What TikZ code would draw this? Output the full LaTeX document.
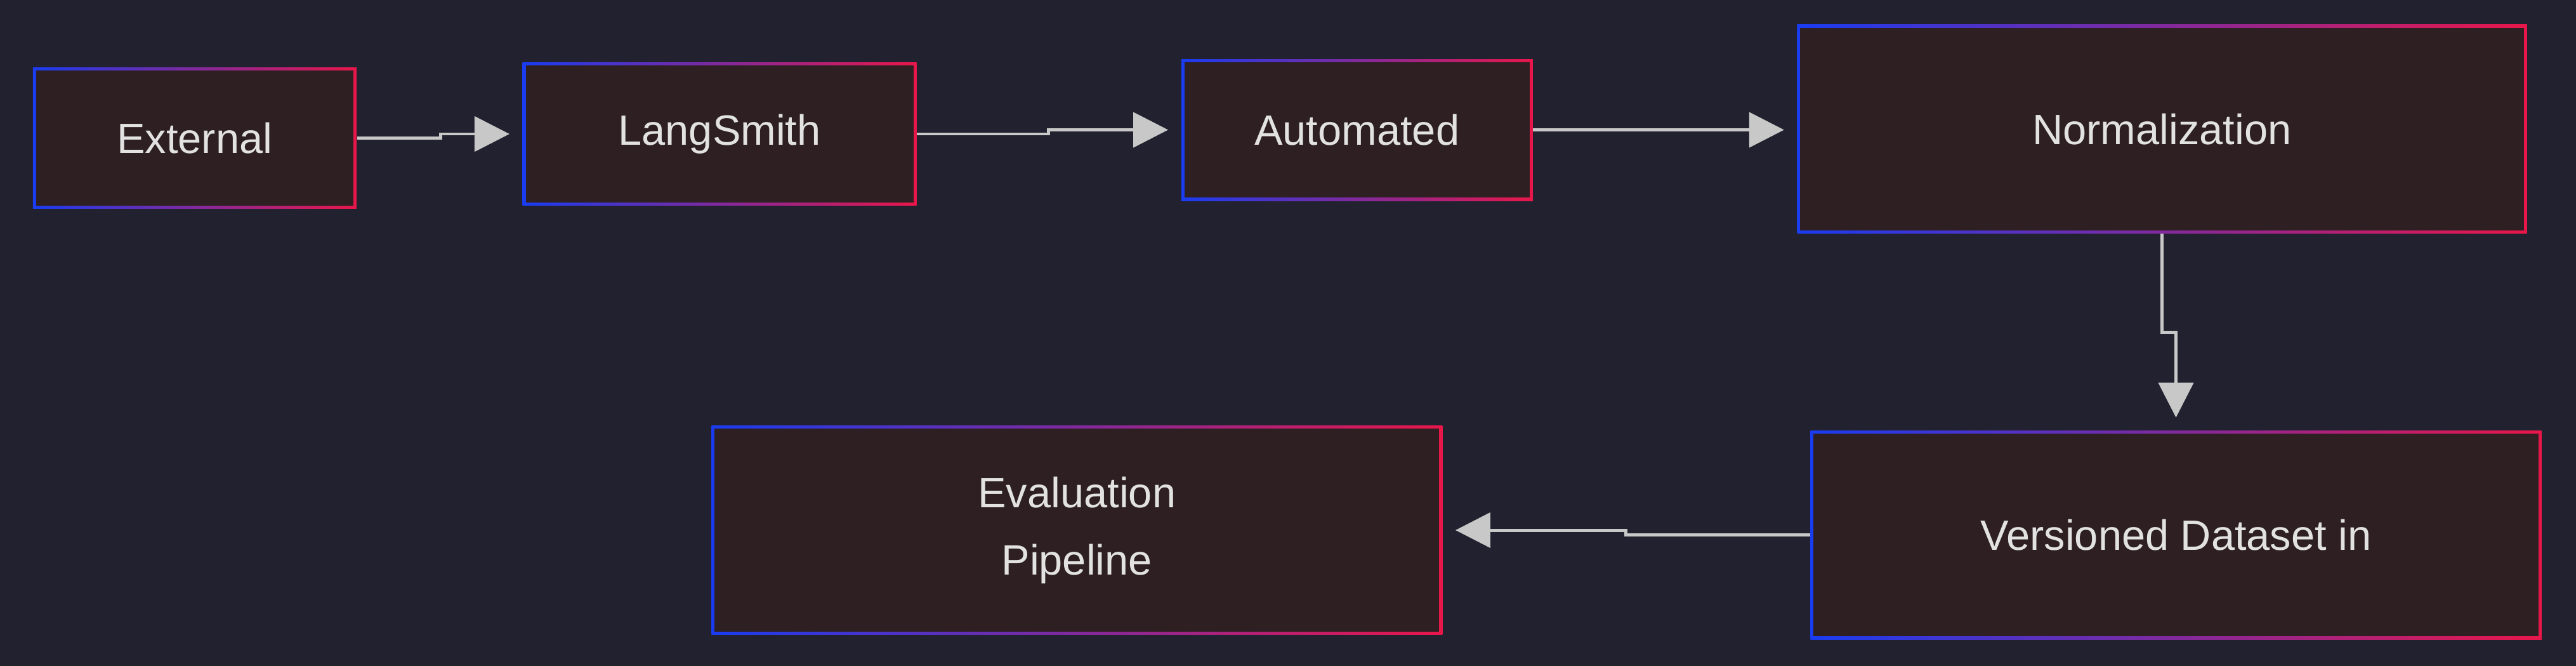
\documentclass[tikz,border=0pt]{standalone}
\usepackage{fontspec}
\setmainfont{Liberation Sans}
\usetikzlibrary{arrows.meta}
\definecolor{bgcol}{HTML}{22212F}
\definecolor{boxfill}{HTML}{2D1F22}
\definecolor{bblue}{HTML}{1A3CF0}
\definecolor{bred}{HTML}{E8174A}
\definecolor{txtcol}{HTML}{E2E2E2}
\definecolor{arrcol}{HTML}{C8C8C8}
\tikzset{
  stage/.style={left color=bblue,right color=bred,
    path picture={\fill[boxfill] ([shift={(1.4pt,1.4pt)}]path picture bounding box.south west)
      rectangle ([shift={(-1.4pt,-1.4pt)}]path picture bounding box.north east);},
    text=txtcol,font=\fontsize{19}{30}\selectfont,align=center,inner sep=0pt},
  flow/.style={draw=arrcol,line width=1.4pt,-{Triangle[length=0.55cm,width=0.55cm]},shorten >=0.2cm}
}
\begin{document}
\begin{tikzpicture}[x=0.02589cm,y=-0.02589cm]
  \fill[bgcol] (0,0) rectangle (1568,405);
  \useasboundingbox (0,0) rectangle (1568,405);

  \node[stage,minimum width=5.10cm,minimum height=2.23cm] (ext) at (118.5,84) {External};
  \node[stage,minimum width=6.21cm,minimum height=2.25cm] (lang) at (438,81.5) {LangSmith};
  \node[stage,minimum width=5.54cm,minimum height=2.23cm] (auto) at (826,79) {Automated};
  \node[stage,minimum width=11.50cm,minimum height=3.29cm] (norm) at (1316,78.5) {Normalization};
  \node[stage,minimum width=11.52cm,minimum height=3.29cm] (vers) at (1324.5,325.5) {Versioned Dataset in};
  \node[stage,minimum width=11.52cm,minimum height=3.29cm] (eval) at (655.5,322.5) {Evaluation\\Pipeline};

  \draw[flow] (ext.east) -- ++(51,0) |- (lang.west);
  \draw[flow] (lang.east) -- ++(80,0) |- (auto.west);
  \draw[flow] (auto.east) -- (norm.west |- auto.east);
  \draw[flow] (norm.south) -- ++(0,60) -| (vers.north);
  \draw[flow] (vers.west) -- ++(-112,0) |- (eval.east);
\end{tikzpicture}
\end{document}
